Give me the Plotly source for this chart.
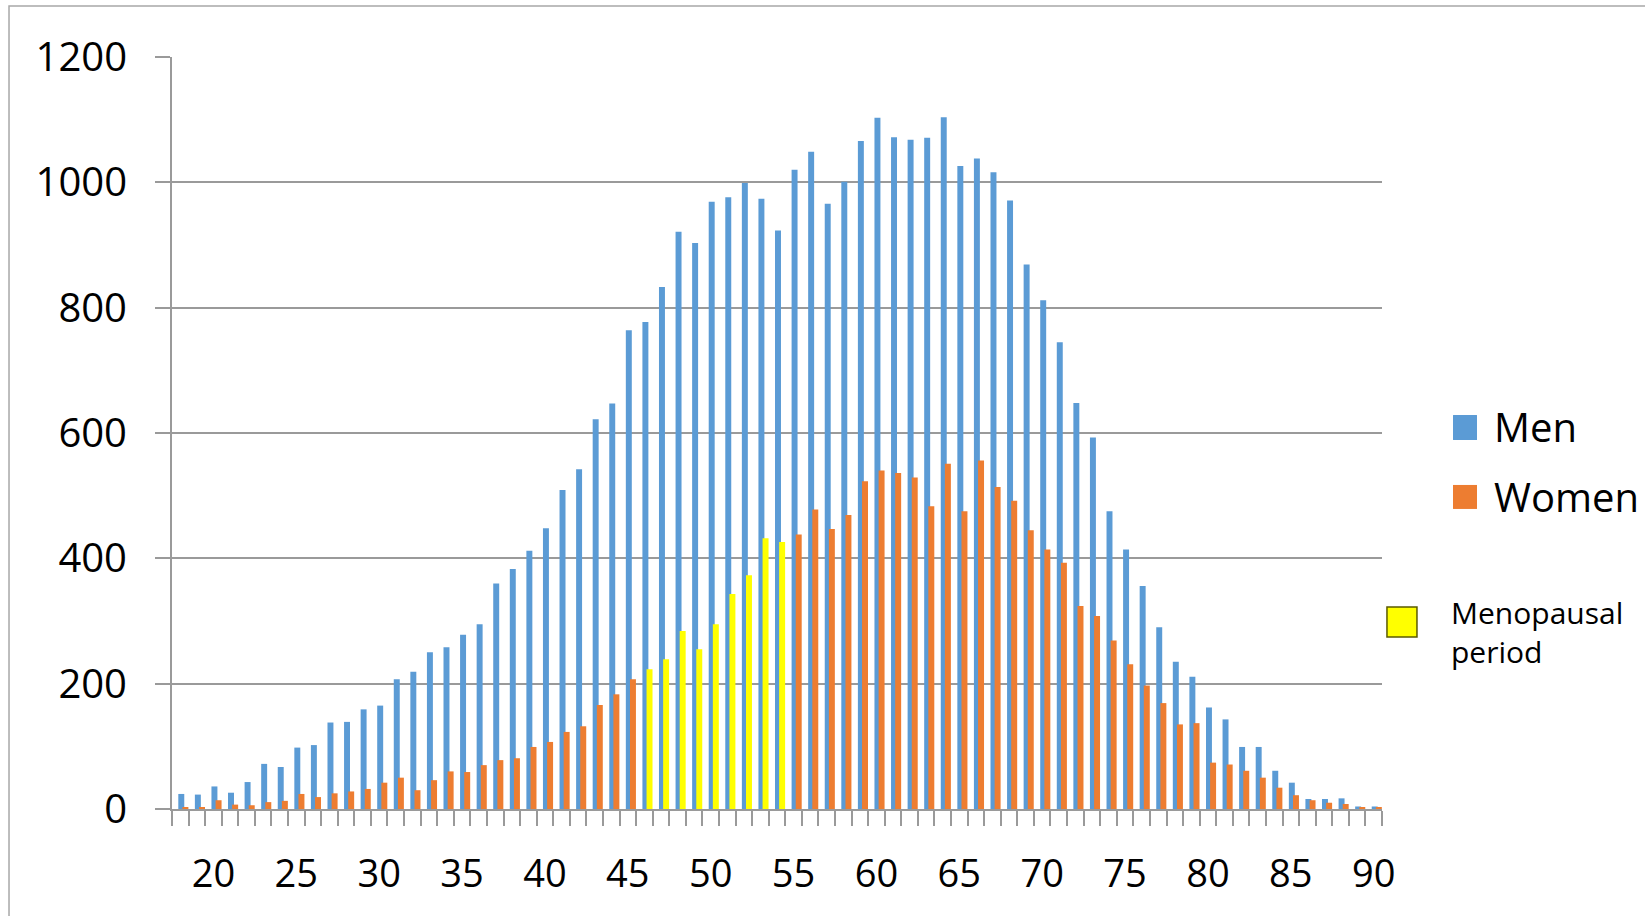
import plotly.graph_objects as go

ages = list(range(18, 91))
men = [24, 23, 36, 26, 43, 72, 67, 98, 102, 138, 139, 159, 165, 207, 219, 250, 258, 278, 295,
       360, 383, 412, 448, 509, 542, 622, 647, 764, 777, 833, 921, 903, 969, 976, 999, 974, 923,
       1020, 1049, 966, 1001, 1066, 1103, 1072, 1068, 1071, 1104, 1026, 1038, 1016, 971, 869,
       812, 745, 648, 593, 475, 414, 356, 290, 235, 211, 162, 143, 99, 99, 61, 42, 16, 16, 17, 4, 4]
women = [3, 2, 14, 7, 6, 11, 13, 24, 19, 25, 28, 32, 42, 50, 30, 46, 60, 59, 70,
         78, 81, 99, 107, 123, 132, 166, 183, 207, 223, 239, 284, 255, 295, 343, 373, 432, 426,
         438, 478, 447, 469, 523, 540, 536, 529, 483, 551, 475, 556, 514, 492, 445,
         414, 393, 324, 308, 269, 231, 197, 169, 135, 137, 74, 71, 61, 50, 34, 22, 14, 10, 8, 3, 3]
menopause_ages = list(range(46, 55))
tick_labels = [20, 25, 30, 35, 40, 45, 50, 55, 60, 65, 70, 75, 80, 85, 90]
y_ticks = [0, 200, 400, 600, 800, 1000, 1200]

BLUE = "#5B9BD5"
ORANGE = "#ED7D31"
YELLOW = "#FFFF00"
GRID = "#9a9a9a"
FONT = "Open Sans"

women_colors = [YELLOW if a in menopause_ages else ORANGE for a in ages]

fig = go.Figure()
fig.add_trace(go.Bar(x=ages, y=men, name="Men", marker=dict(color=BLUE, line=dict(width=0)),
                     width=0.36, offset=-0.12))
fig.add_trace(go.Bar(x=ages, y=women, name="Women", marker=dict(color=women_colors, line=dict(width=0)),
                     width=0.36, offset=0.13))

fig.update_layout(
    width=1645, height=916,
    margin=dict(l=172, r=263, t=57, b=107),
    paper_bgcolor="white", plot_bgcolor="white",
    barmode="overlay",
    showlegend=False,
    font=dict(family=FONT, color="#000000", size=39),
)

fig.update_xaxes(
    type="linear", range=[17.5, 90.5],
    tickmode="array", tickvals=tick_labels, ticktext=[str(t) for t in tick_labels],
    ticks="", showgrid=False,
    showline=True, linecolor=GRID, linewidth=2,
    tickfont=dict(family=FONT, size=38, color="#000000"),
    ticklabelstandoff=30,
    minor=dict(tickmode="array", tickvals=[a - 0.5 for a in ages] + [ages[-1] + 0.5],
               ticks="outside", ticklen=15, tickwidth=1.5, tickcolor=GRID, showgrid=False),
    zeroline=False,
)
fig.update_yaxes(
    range=[0, 1200], tickmode="array", tickvals=y_ticks,
    ticks="outside", ticklen=15, tickwidth=1.5, tickcolor=GRID,
    showgrid=True, gridcolor=GRID, gridwidth=2,
    showline=True, linecolor=GRID, linewidth=2,
    zeroline=False,
    tickfont=dict(family=FONT, size=40, color="#000000"),
    ticklabelstandoff=20,
)

# outer frame
fig.add_shape(type="rect", xref="paper", yref="paper", x0=-0.1347, x1=1.4, y0=-0.3, y1=1.0678,
              line=dict(color="#a8a8a8", width=1.5), fillcolor="rgba(0,0,0,0)", layer="below")

# custom legend
fig.add_shape(type="rect", xref="paper", yref="paper", x0=1.0587, x1=1.0785, y0=0.4907, y1=0.5239,
              line=dict(width=0), fillcolor=BLUE)
fig.add_shape(type="rect", xref="paper", yref="paper", x0=1.0587, x1=1.0785, y0=0.399, y1=0.4309,
              line=dict(width=0), fillcolor=ORANGE)
fig.add_shape(type="rect", xref="paper", yref="paper", x0=1.0041, x1=1.0289, y0=0.2287, y1=0.2686,
              line=dict(width=1.5, color="#5a5a00"), fillcolor=YELLOW)
fig.add_annotation(xref="paper", yref="paper", x=1.0909, y=0.508, text="Men", showarrow=False,
                   xanchor="left", yanchor="middle", font=dict(family=FONT, size=40, color="#000000"))
fig.add_annotation(xref="paper", yref="paper", x=1.0909, y=0.416, text="Women", showarrow=False,
                   xanchor="left", yanchor="middle", font=dict(family=FONT, size=40, color="#000000"))
fig.add_annotation(xref="paper", yref="paper", x=1.055, y=0.236, text="Menopausal<br>period",
                   showarrow=False, xanchor="left", yanchor="middle", align="left",
                   font=dict(family=FONT, size=30, color="#000000"))

fig.write_html("out.html")
